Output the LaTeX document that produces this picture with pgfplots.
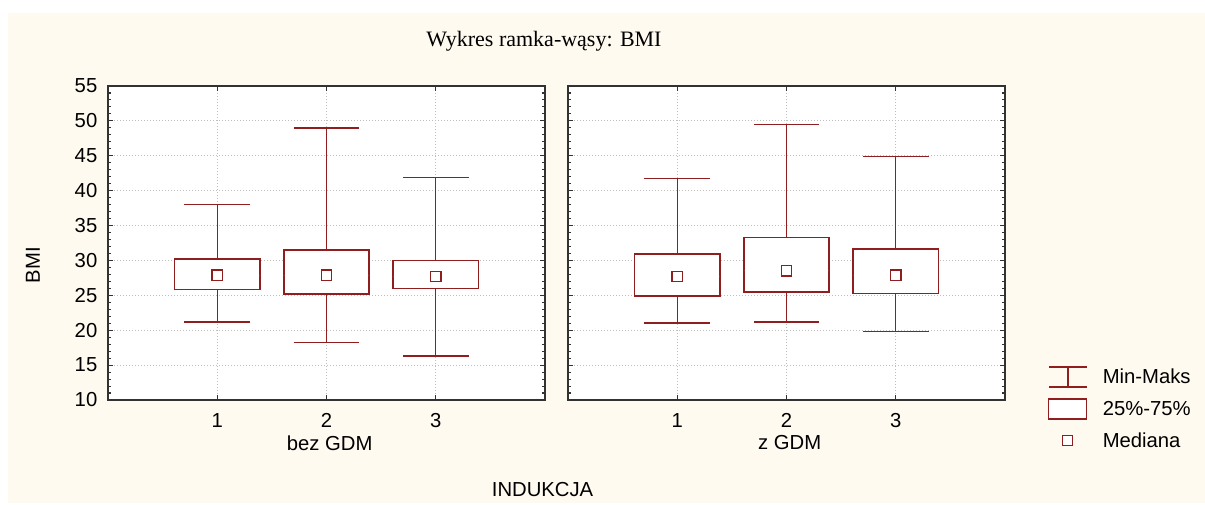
\documentclass[border=0pt]{standalone}
\usepackage{fontspec}
\setmainfont{Liberation Sans}
\newfontfamily\titlefont{Liberation Serif}
\usepackage{pgfplots}
\pgfplotsset{compat=1.18}
\usepgfplotslibrary{statistics}
\definecolor{bred}{RGB}{145,30,30}
\definecolor{cream}{RGB}{255,250,240}
\definecolor{gridgray}{RGB}{190,190,190}
\definecolor{axgray}{RGB}{50,50,50}
\newcommand{\lbl}{\fontsize{15.2}{18}\selectfont}
\pgfplotsset{
  panel/.style={
    scale only axis, width=327.75pt, height=235.5pt,
    anchor=south west,
    xmin=0, xmax=4, ymin=10, ymax=55,
    xtick={1,2,3}, ytick={10,15,...,55},
    minor y tick num=4,
    tick align=inside,
    major tick length=3.5pt, minor tick length=2pt,
    every tick/.style={axgray, line width=0.8pt},
    axis line style={axgray, line width=1.1pt},
    axis background/.style={fill=white},
    grid=major,
    major grid style={gridgray, line width=0.7pt, dash pattern=on 0.75pt off 1.5pt},
    tick label style={font=\lbl},
    yticklabel style={xshift=-4.5pt},
    xticklabel style={yshift=-6.5pt},
    /pgf/number format/assume math mode=true,
    boxplot/draw direction=y,
    boxplot/box extend=0.78,
    boxplot/whisker extend=0.6,
    boxplot/every median/.style={draw=none},
    every boxplot/.style={bred, line width=1pt, solid, fill=white, mark=none, forget plot},
  },
  med/.style={only marks, mark=square, mark size=3.9pt, bred, mark options={line width=1pt, fill=white, solid, draw=bred}, forget plot},
}
\begin{document}
\begin{tikzpicture}
\fill[white] (0,0) rectangle (903.75pt,378.75pt);
\fill[cream] (6pt,1.5pt) rectangle (903.75pt,369pt);

\begin{axis}[panel, at={(81pt,78.75pt)}]
\addplot+[boxplot prepared={lower whisker=21.2, lower quartile=25.8, median=27.9, upper quartile=30.2, upper whisker=38.0, draw position=1}] coordinates {};
\addplot+[boxplot prepared={lower whisker=18.2, lower quartile=25.2, median=27.9, upper quartile=31.5, upper whisker=49.0, draw position=2}] coordinates {};
\addplot+[boxplot prepared={lower whisker=16.3, lower quartile=26.0, median=27.7, upper quartile=30.0, upper whisker=41.9, draw position=3}] coordinates {};
\addplot[med] coordinates {(1,27.9) (2,27.9) (3,27.7)};
\end{axis}

\begin{axis}[panel, at={(426pt,78.75pt)}, yticklabels={},
  legend style={at={(1.098,0.109)}, anchor=north west, draw=none, fill=none,
    font=\lbl, inner sep=0pt, row sep=7.6pt, legend cell align=left,
    /tikz/every odd column/.append style={column sep=9pt}},
  ]
\addplot+[boxplot prepared={lower whisker=21.05, lower quartile=24.9, median=27.7, upper quartile=30.9, upper whisker=41.7, draw position=1}] coordinates {};
\addplot+[boxplot prepared={lower whisker=21.2, lower quartile=25.5, median=28.5, upper quartile=33.3, upper whisker=49.5, draw position=2}] coordinates {};
\addplot+[boxplot prepared={lower whisker=19.8, lower quartile=25.3, median=27.9, upper quartile=31.65, upper whisker=44.9, draw position=3}] coordinates {};
\addplot[med] coordinates {(1,27.7) (2,28.5) (3,27.9)};
\addlegendimage{legend image code/.code={\draw[bred, line width=1pt] (0pt,-7.5pt)--(29pt,-7.5pt) (14.5pt,-7.5pt)--(14.5pt,7.5pt) (0pt,7.5pt)--(29pt,7.5pt);}}
\addlegendentry{Min-Maks}
\addlegendimage{legend image code/.code={\draw[bred, line width=1pt, fill=white] (0pt,-7.5pt) rectangle (28.5pt,7.5pt);}}
\addlegendentry{25\%-75\%}
\addlegendimage{legend image code/.code={\draw[bred, line width=1pt, fill=white] (10.5pt,-3.75pt) rectangle (18pt,3.75pt); \path (0pt,0pt) (28.5pt,0pt);}}
\addlegendentry{Mediana}
\end{axis}

\node[font=\titlefont\fontsize{16.5}{19}\selectfont] at (408pt,348pt) {Wykres ramka-wąsy: BMI};
\node[font=\lbl, rotate=90] at (24.75pt,180pt) {BMI};
\node[font=\lbl] at (247.3pt,46.5pt) {bez GDM};
\node[font=\lbl] at (592.3pt,46.5pt) {z GDM};
\node[font=\lbl] at (406.9pt,11.25pt) {INDUKCJA};
\end{tikzpicture}
\end{document}
